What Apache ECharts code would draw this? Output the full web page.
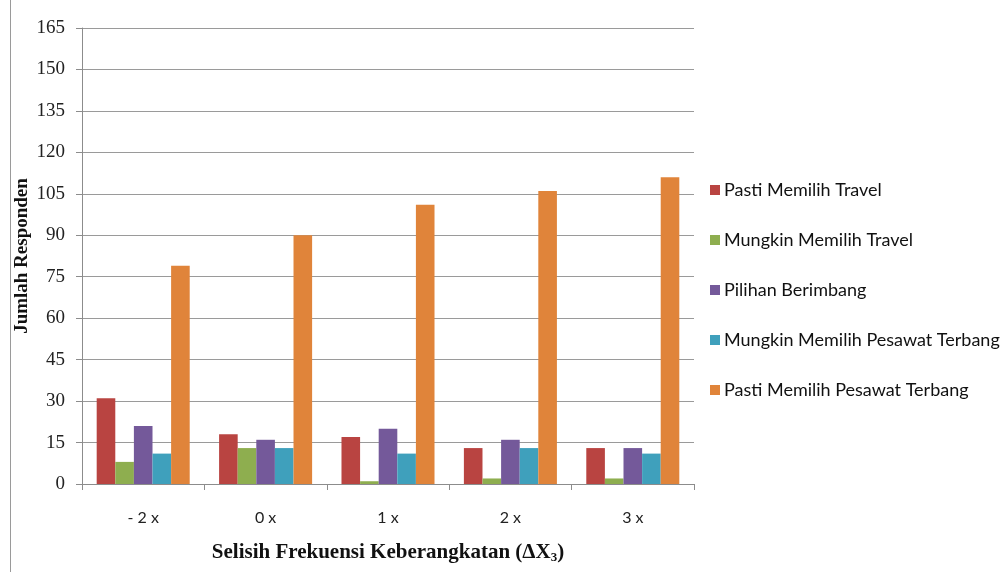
<!DOCTYPE html>
<html>
<head>
<meta charset="utf-8">
<script src="https://cdn.jsdelivr.net/npm/echarts@6/dist/echarts.min.js"></script>
<style>
  html, body { margin: 0; padding: 0; background: #fff; }
  #chart { width: 1006px; height: 572px; }
</style>
</head>
<body>
<div id="chart"></div>
<script>
// Survey responses by departure-frequency difference
const categories = ['- 2 x', '0 x', '1 x', '2 x', '3 x'];
const seriesNames = [
  'Pasti Memilih Travel',
  'Mungkin Memilih Travel',
  'Pilihan Berimbang',
  'Mungkin Memilih Pesawat Terbang',
  'Pasti Memilih Pesawat Terbang'
];
const pastiTravel = [31, 18, 17, 13, 13];
const mungkinTravel = [8, 13, 1, 2, 2];
const berimbang = [21, 16, 20, 16, 13];
const mungkinPesawat = [11, 13, 11, 13, 11];
const pastiPesawat = [79, 90, 101, 106, 111];
const yTicks = { min: 0, max: 165, interval: 15 };

const colors = ['#B94441', '#8EAE4F', '#74599A', '#3FA0BC', '#E0843A'];
const values = [pastiTravel, mungkinTravel, berimbang, mungkinPesawat, pastiPesawat];

const chart = echarts.init(document.getElementById('chart'));
chart.setOption({
  animation: false,
  backgroundColor: '#fff',
  color: colors,
  grid: {
    left: 82, right: 312, top: 28, bottom: 88,
    containLabel: false,
    outerBoundsMode: 'none'
  },
  legend: {
    orient: 'vertical',
    left: 705,
    top: 176,
    itemWidth: 10,
    itemHeight: 10,
    itemGap: 32,
    icon: 'rect',
    textStyle: { fontFamily: 'Lato', fontSize: 18, color: '#111', padding: [0, 0, 0, -1] },
    data: seriesNames
  },
  xAxis: {
    type: 'category',
    data: categories,
    name: '{t|Selisih Frekuensi Keberangkatan (ΔX}{s|3}{t|)}',
    nameLocation: 'middle',
    nameGap: 57,
    nameMoveOverlap: false,
    nameTextStyle: {
      rich: {
        t: { fontFamily: 'Liberation Serif', fontWeight: 'bold', fontSize: 21, color: '#111' },
        s: { fontFamily: 'Liberation Serif', fontWeight: 'bold', fontSize: 13, color: '#111', padding: [10, 0, 0, 0] }
      }
    },
    axisLine: { lineStyle: { color: '#8c8c8c', width: 1 } },
    axisTick: { show: true, length: 6, lineStyle: { color: '#8c8c8c' } },
    axisLabel: { margin: 26, fontFamily: 'Lato', fontSize: 16, color: '#222' }
  },
  yAxis: {
    type: 'value',
    min: yTicks.min,
    max: yTicks.max,
    interval: yTicks.interval,
    name: 'Jumlah Responden',
    nameLocation: 'middle',
    nameGap: 50,
    nameMoveOverlap: false,
    nameTextStyle: { fontFamily: 'Liberation Serif', fontWeight: 'bold', fontSize: 19, color: '#111' },
    axisLine: { show: true, lineStyle: { color: '#8c8c8c', width: 1 } },
    axisTick: { show: true, length: 6, lineStyle: { color: '#8c8c8c' } },
    axisLabel: { margin: 17, fontFamily: 'Liberation Serif', fontSize: 19, color: '#222' },
    splitLine: { lineStyle: { color: '#9a9a9a', width: 1 } }
  },
  series: seriesNames.map((name, i) => ({
    name,
    type: 'bar',
    data: values[i],
    barGap: '0%',
    barCategoryGap: '24%',
    itemStyle: { color: colors[i] }
  })),
  graphic: [{
    type: 'line',
    shape: { x1: 10.5, y1: 0, x2: 10.5, y2: 572 },
    style: { stroke: '#9a9a9a', lineWidth: 1 }
  }]
});
</script>
</body>
</html>
